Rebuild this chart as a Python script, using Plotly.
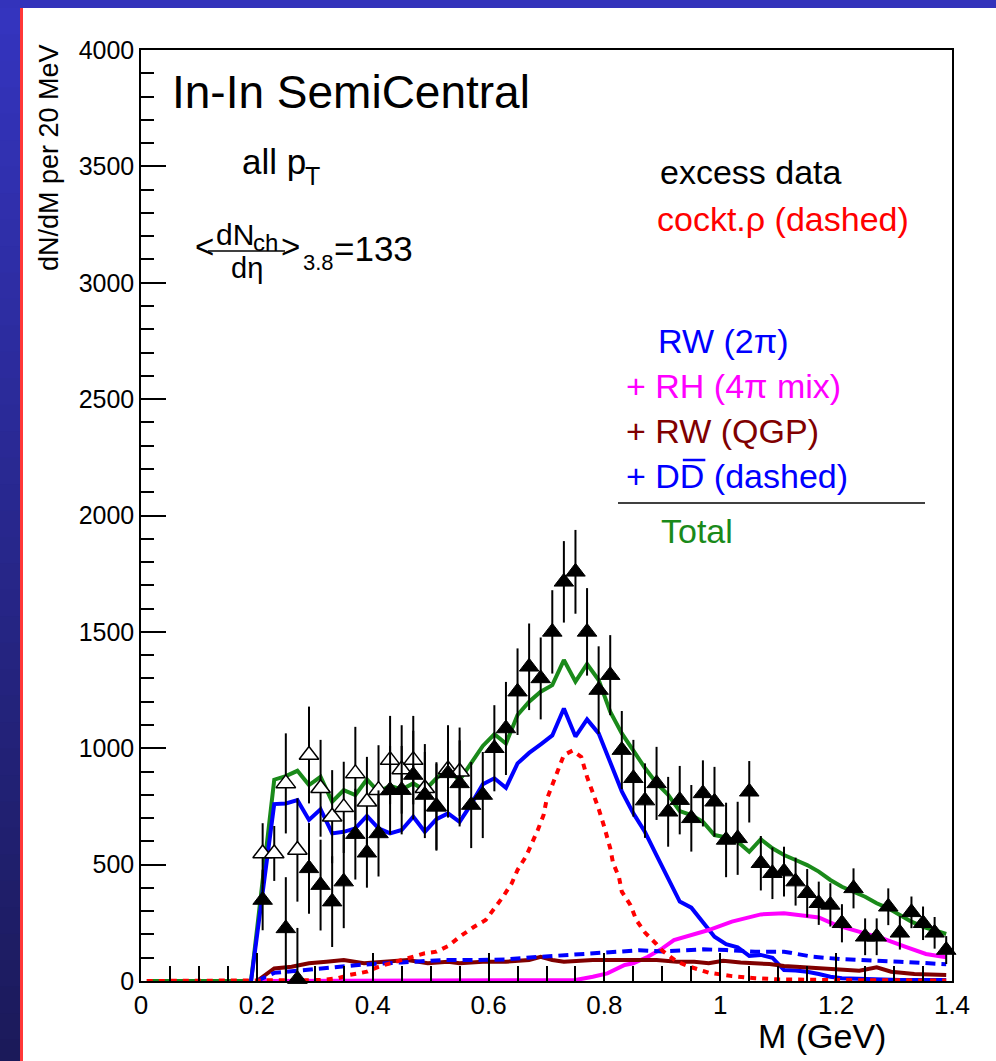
import plotly.graph_objects as go

# ---------------------------------------------------------------- data
# excess dimuon yield, 20 MeV bins, filled symbols
mass_filled = [0.21, 0.25, 0.27, 0.29, 0.31, 0.33, 0.35, 0.37, 0.39, 0.41,
               0.43, 0.45, 0.47, 0.49, 0.51, 0.53, 0.55, 0.57, 0.59, 0.61,
               0.63, 0.65, 0.67, 0.69, 0.71, 0.73, 0.75, 0.77, 0.79, 0.81,
               0.83, 0.85, 0.87, 0.89, 0.91, 0.93, 0.95, 0.97, 0.99, 1.01,
               1.03, 1.05, 1.07, 1.09, 1.11, 1.13, 1.15, 1.17, 1.19, 1.21,
               1.23, 1.25, 1.27, 1.29, 1.31, 1.33, 1.35, 1.37, 1.39]
yield_filled = [348, 226, 8, 484, 412, 341, 427, 631, 551, 634,
                820, 820, 885, 799, 749, 892, 849, 756, 799, 1000,
                1085, 1243, 1350, 1300, 1500, 1715, 1758, 1500, 1250, 1314,
                992, 871, 775, 849, 727, 777, 699, 806, 770, 606,
                613, 813, 506, 463, 470, 427, 377, 334, 327, 248,
                398, 190, 190, 319, 207, 295, 248, 207, 133]
err_filled = [130, 220, 220, 195, 195, 195, 200, 195, 150, 185,
              190, 190, 190, 185, 185, 190, 185, 185, 185, 185,
              200, 186, 186, 176, 179, 175, 180, 188, 188, 172,
              168, 165, 160, 157, 150, 147, 143, 142, 150, 160,
              157, 132, 117, 111, 107, 103, 104, 93, 93, 82,
              86, 79, 79, 79, 72, 68, 72, 68, 60]

# open symbols, low-mass region
mass_open = [0.21, 0.23, 0.25, 0.27, 0.29, 0.31, 0.33, 0.35, 0.37, 0.39,
             0.41, 0.43, 0.45, 0.47, 0.49, 0.51, 0.53, 0.55]
yield_open = [548, 548, 849, 563, 971, 828, 706, 746, 892, 770,
              820, 949, 909, 949, 828, 750, 909, 899]
err_open = [130, 118, 215, 222, 208, 208, 200, 196, 200, 193,
            193, 190, 190, 190, 190, 190, 190, 190]

# model curves
mass_grid = [0.23, 0.25, 0.27, 0.29, 0.31, 0.33, 0.35, 0.37, 0.39, 0.41,
             0.43, 0.45, 0.47, 0.49, 0.51, 0.53, 0.55, 0.57, 0.59, 0.61,
             0.63, 0.65, 0.67, 0.69, 0.71, 0.73, 0.75, 0.77, 0.79, 0.81,
             0.83, 0.85, 0.87, 0.89, 0.91, 0.93, 0.95, 0.97, 0.99, 1.01,
             1.03, 1.05, 1.07, 1.09, 1.11, 1.13, 1.15, 1.17, 1.19, 1.21,
             1.23, 1.25, 1.27, 1.29, 1.31, 1.33, 1.35, 1.37, 1.39]

total_mass = [0.01, 0.19] + mass_grid
total_val = [0, 0,
             865, 880, 903, 842, 877, 770, 820, 799, 866, 813,
             838, 823, 849, 820, 871, 909, 863, 938, 1010, 1060,
             1020, 1143, 1200, 1243, 1271, 1379, 1286, 1362, 1293, 1157,
             1064, 990, 915, 850, 800, 730, 713, 684, 627, 617,
             598, 555, 609, 570, 541, 520, 498, 470, 434, 405,
             384, 362, 334, 312, 284, 255, 233, 219, 202]

rw2pi_mass = [0.19] + mass_grid
rw2pi_val = [0,
             760, 763, 777, 692, 738, 634, 641, 656, 709, 656,
             634, 649, 706, 641, 695, 720, 684, 760, 845, 871,
             830, 935, 980, 1017, 1055, 1171, 1050, 1124, 1064, 940,
             815, 720, 640, 540, 440, 341, 315, 255, 190, 158,
             145, 108, 112, 100, 47, 45, 40, 30, 18, 12,
             10, 6, 5, 5, 4, 4, 4, 4, 4]

rho_mass = [0.01, 0.29, 0.31, 0.34, 0.36, 0.39, 0.41, 0.43, 0.46, 0.49,
            0.51, 0.53, 0.55, 0.575, 0.595, 0.61, 0.625, 0.64, 0.65, 0.665,
            0.675, 0.685, 0.695, 0.70, 0.71, 0.72, 0.73, 0.745, 0.76, 0.77,
            0.78, 0.79, 0.80, 0.81, 0.815, 0.825, 0.83, 0.845, 0.855, 0.87,
            0.89, 0.90, 0.925, 0.95, 0.98, 1.02, 1.06, 1.10, 1.20, 1.39]
rho_val = [0, 0, 4, 12, 26, 40, 61, 76, 97, 119,
           126, 150, 190, 233, 262, 312, 362, 420, 477, 537,
           591, 649, 713, 777, 842, 906, 971, 990, 963, 877,
           813, 740, 660, 570, 506, 448, 384, 326, 262, 208,
           158, 130, 83, 59, 36, 21, 12, 7, 4, 2]

rh4pi_mass = [0.20, 0.72, 0.75, 0.78, 0.805, 0.835, 0.85, 0.875, 0.90, 0.92,
              0.94, 0.98, 1.02, 1.07, 1.11, 1.14, 1.17, 1.20, 1.24, 1.28,
              1.32, 1.355, 1.39]
rh4pi_val = [0, 0, 4, 18, 33, 69, 76, 104, 140, 176,
             190, 219, 255, 286, 291, 284, 273, 240, 212, 183,
             147, 116, 102]

qgp_mass = [0.20, 0.23, 0.26, 0.29, 0.32, 0.35, 0.385, 0.42, 0.46, 0.495,
            0.53, 0.55, 0.59, 0.63, 0.67, 0.69, 0.71, 0.73, 0.78, 0.83,
            0.89, 0.925, 0.955, 0.98, 1.005, 1.035, 1.065, 1.085, 1.11, 1.145,
            1.17, 1.20, 1.24, 1.27, 1.295, 1.335, 1.39]
qgp_val = [0, 54, 61, 76, 83, 90, 76, 83, 90, 76,
           83, 76, 83, 83, 90, 104, 90, 83, 90, 90,
           90, 83, 83, 76, 87, 79, 76, 73, 64, 59,
           54, 47, 44, 59, 40, 30, 26]

ddbar_mass = [0.20, 0.23, 0.26, 0.32, 0.38, 0.45, 0.52, 0.58, 0.63, 0.69,
              0.75, 0.80, 0.86, 0.90, 0.93, 0.97, 1.01, 1.06, 1.11, 1.16,
              1.21, 1.26, 1.31, 1.36, 1.39]
ddbar_val = [0, 35, 42, 58, 70, 80, 90, 90, 93, 104,
             115, 124, 132, 127, 130, 136, 133, 126, 126, 104,
             94, 90, 83, 76, 72]

# ---------------------------------------------------------------- styling
FONT = "Liberation Sans, Arial, Helvetica, sans-serif"
FIG_W, FIG_H = 996, 1061
PLOT_L, PLOT_T, PLOT_R, PLOT_B = 141, 50, 952, 981

GREEN = "#1a8a1a"
BLUE = "#0000ff"
RED = "#ff0000"
MAGENTA = "#ff00ff"
MAROON = "#800000"


def px(x):
    return (x - PLOT_L) / (PLOT_R - PLOT_L)


def py(y):
    return (PLOT_B - y) / (PLOT_B - PLOT_T)


fig = go.Figure()


def curve(m, v, color, dash="solid"):
    fig.add_trace(go.Scatter(x=m, y=v, mode="lines",
                             line=dict(color=color, width=4, dash=dash),
                             hoverinfo="skip"))


curve(total_mass, total_val, GREEN)
curve(rw2pi_mass, rw2pi_val, BLUE)
curve(rh4pi_mass, rh4pi_val, MAGENTA)
curve(qgp_mass, qgp_val, MAROON)
curve(ddbar_mass, ddbar_val, BLUE, dash="10px,6px")
curve(rho_mass, rho_val, RED, dash="6px,6px")

fig.add_trace(go.Scatter(
    x=mass_open, y=yield_open, mode="markers", cliponaxis=False,
    marker=dict(symbol="triangle-up", size=17, color="white",
                line=dict(color="black", width=1.5)),
    error_y=dict(type="data", array=err_open, color="black",
                 thickness=2, width=0)))

fig.add_trace(go.Scatter(
    x=mass_filled, y=yield_filled, mode="markers", cliponaxis=False,
    marker=dict(symbol="triangle-up", size=17, color="black",
                line=dict(color="black", width=1)),
    error_y=dict(type="data", array=err_filled, color="black",
                 thickness=2, width=0)))

# ---------------------------------------------------------------- frame / background
shapes = []
# left strip: vertical blue gradient
top_rgb = (52, 52, 190)
bot_rgb = (27, 26, 90)
n_bands = 40
y_top, y_bot = 8, FIG_H + 5
for i in range(n_bands):
    f = i / (n_bands - 1)
    c = tuple(round(a + (b - a) * f) for a, b in zip(top_rgb, bot_rgb))
    ya = y_top + (y_bot - y_top) * i / n_bands
    yb = y_top + (y_bot - y_top) * (i + 1) / n_bands + 1
    shapes.append(dict(type="rect", xref="paper", yref="paper", layer="below",
                       x0=px(-5), x1=px(20), y0=py(yb), y1=py(ya),
                       fillcolor="rgb(%d,%d,%d)" % c, line=dict(width=0)))
# red edge
shapes.append(dict(type="rect", xref="paper", yref="paper", layer="below",
                   x0=px(20), x1=px(23), y0=py(FIG_H + 5), y1=py(8),
                   fillcolor="#ff3838", line=dict(width=0)))
# white panel
shapes.append(dict(type="rect", xref="paper", yref="paper", layer="below",
                   x0=px(23), x1=px(FIG_W + 5), y0=py(FIG_H + 5), y1=py(8),
                   fillcolor="white", line=dict(width=0)))
# separator in the key
shapes.append(dict(type="line", xref="paper", yref="paper",
                   x0=px(618), x1=px(925), y0=py(503), y1=py(503),
                   line=dict(color="black", width=1.5)))
# fraction bar of dN/deta
shapes.append(dict(type="line", xref="paper", yref="paper",
                   x0=px(208), x1=px(285), y0=py(251), y1=py(251),
                   line=dict(color="black", width=1.5)))

LEG = 34
# overline on the anti-D
d_left = 627 + (0.584 + 0.278 + 0.722) * LEG
shapes.append(dict(type="line", xref="paper", yref="paper",
                   x0=px(d_left + 2), x1=px(d_left + 0.72 * LEG), y0=py(460), y1=py(460),
                   line=dict(color=BLUE, width=2.5)))

annotations = []


def label(text, x, y, size, color="black", xanchor="left", **kw):
    annotations.append(dict(text=text, x=px(x), y=py(y), xref="paper", yref="paper",
                            xanchor=xanchor, yanchor="middle", showarrow=False,
                            font=dict(family=FONT, size=size, color=color), **kw))


label("In-In SemiCentral", 170, 92, 46)
label("all p", 240, 161, 35)
label("T", 303, 176, 25)
label("&lt;", 204, 247, 33, xanchor="center")
label("dN", 214, 235, 30)
label("ch", 251, 242, 24)
label("d\u03b7", 247, 268, 29, xanchor="center")
label("&gt;", 290, 247, 33, xanchor="center")
label("3.8", 318, 262, 22, xanchor="center")
label("=133", 332, 249, 35)

label("excess data", 658, 172, LEG)
label("cockt.\u03c1 (dashed)", 655, 219, LEG, RED)
label("RW (2\u03c0)", 656, 341, LEG, BLUE)
label("+ RH (4\u03c0 mix)", 624, 386, LEG, MAGENTA)
label("+ RW (QGP)", 624, 431, LEG, MAROON)
label("+ DD (dashed)", 624, 476, LEG, BLUE)
label("Total", 659, 531, LEG, GREEN)

label("M (GeV)", 822, 1036, 34, xanchor="center")
label("dN/dM per 20 MeV", 49, 158, 27, xanchor="center", textangle=-90)

fig.update_layout(
    width=FIG_W, height=FIG_H,
    margin=dict(l=PLOT_L, r=FIG_W - PLOT_R, t=PLOT_T, b=FIG_H - PLOT_B, pad=0),
    paper_bgcolor="#3333bb",
    plot_bgcolor="white",
    showlegend=False,
    shapes=shapes,
    annotations=annotations,
    xaxis=dict(range=[0, 1.4], showgrid=False, zeroline=False,
               showline=True, linecolor="black", linewidth=1.5, mirror=True,
               ticks="inside", ticklen=28, tickwidth=1.5, tickcolor="black",
               tick0=0, dtick=0.2,
               tickfont=dict(family=FONT, size=26, color="black"),
               minor=dict(ticks="inside", dtick=0.05, ticklen=15,
                          tickwidth=1.5, tickcolor="black", showgrid=False)),
    yaxis=dict(range=[0, 4000], showgrid=False, zeroline=False,
               showline=True, linecolor="black", linewidth=1.5, mirror=True,
               ticks="inside", ticklen=25, tickwidth=1.5, tickcolor="black",
               tick0=0, dtick=500, tickformat="d",
               tickfont=dict(family=FONT, size=25, color="black"),
               minor=dict(ticks="inside", dtick=100, ticklen=13,
                          tickwidth=1.5, tickcolor="black", showgrid=False)),
)

fig.write_html("out.html")
